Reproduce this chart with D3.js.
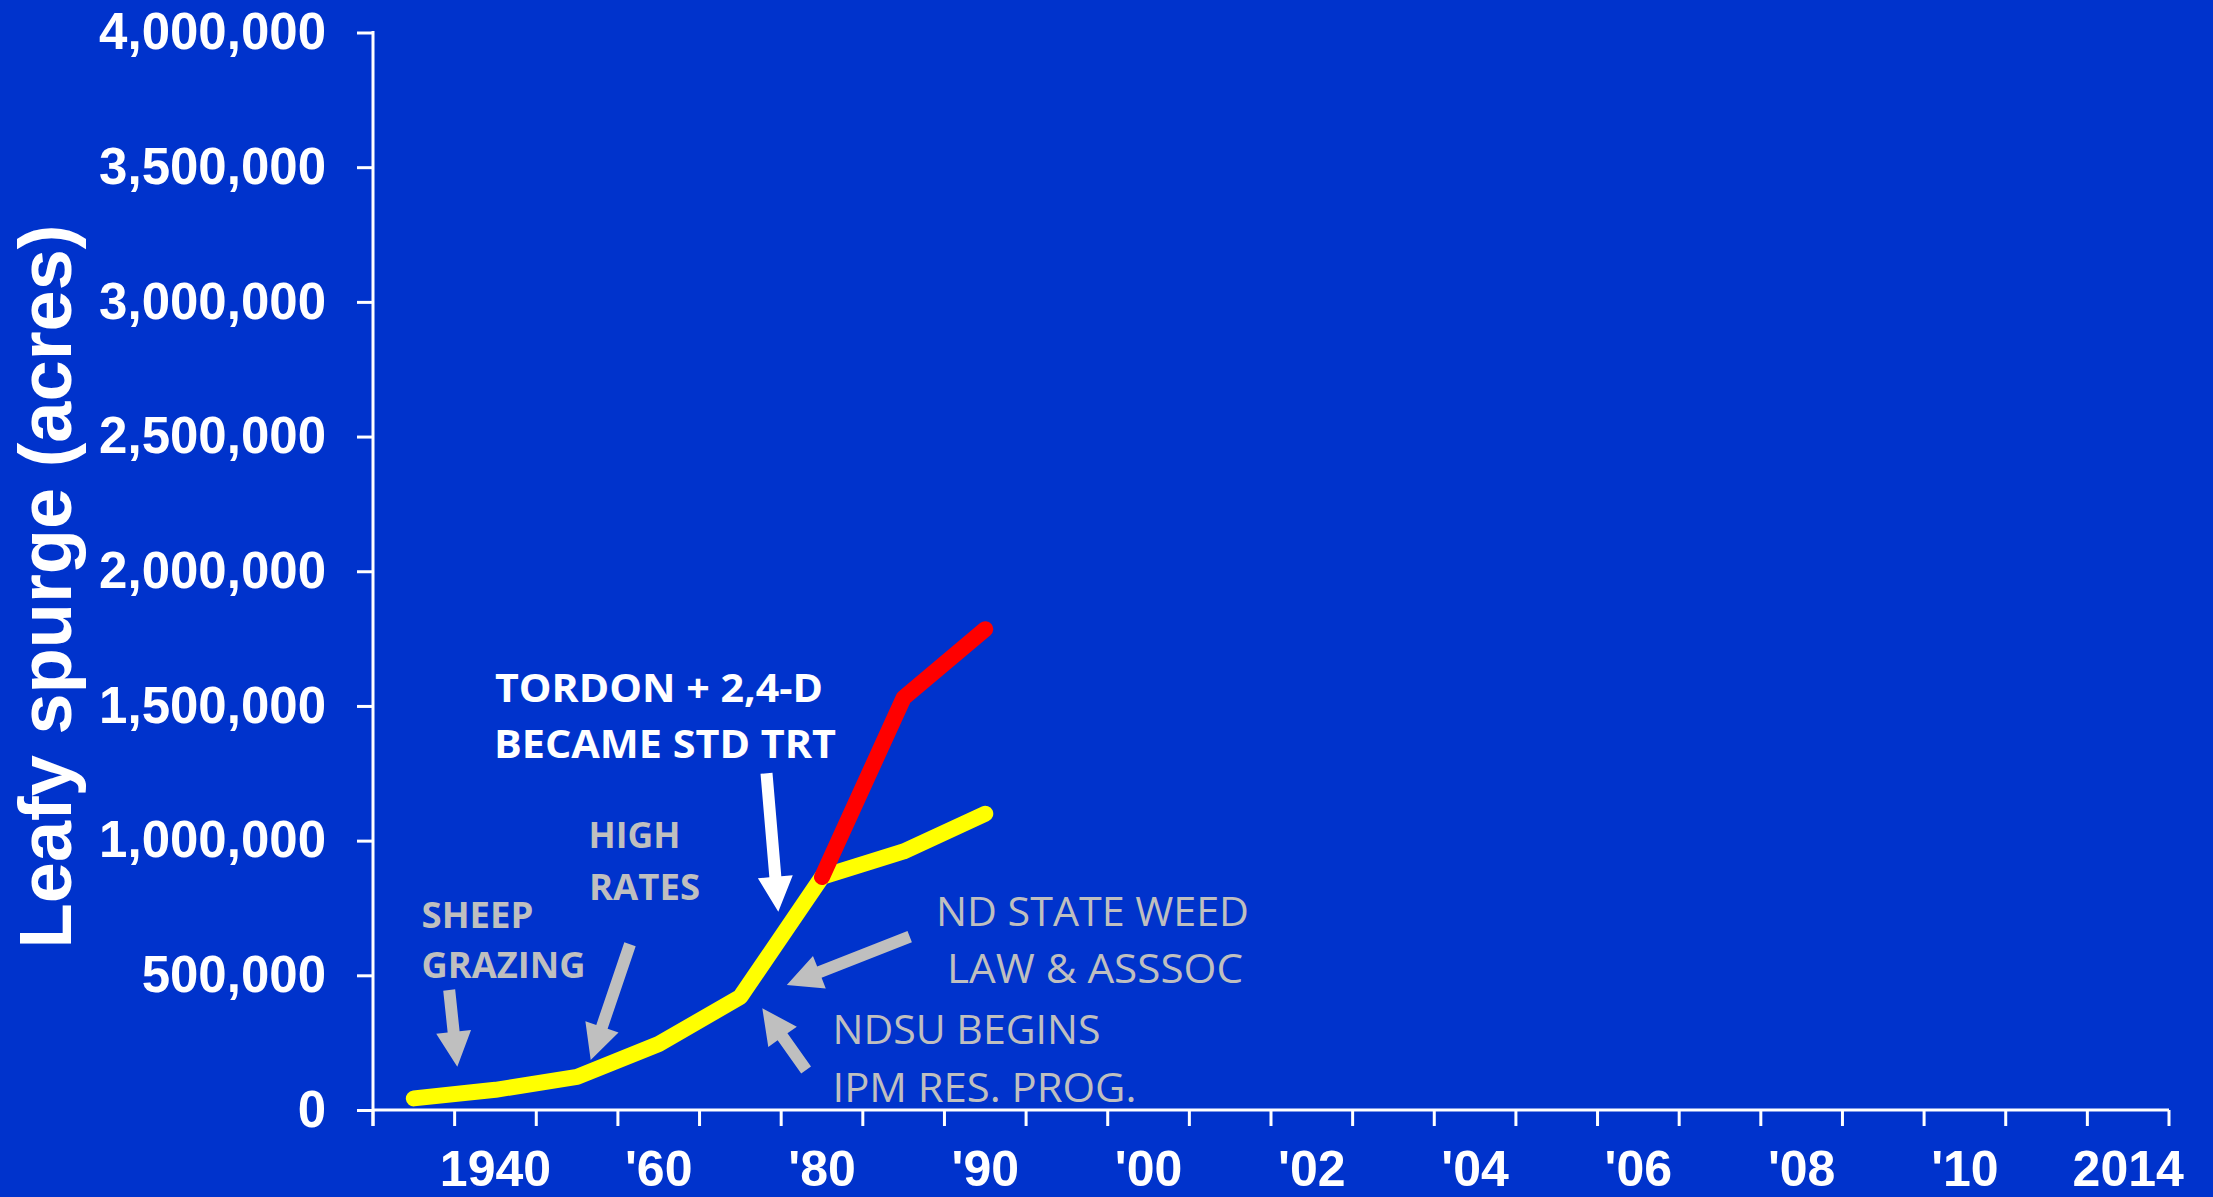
<!DOCTYPE html>
<html>
<head>
<meta charset="utf-8">
<script src="https://cdn.jsdelivr.net/npm/d3@7"></script>
<style>
  html, body { margin: 0; padding: 0; background: #0033CC; }
  svg { display: block; }
</style>
</head>
<body>
<svg id="chart" width="2213" height="1197"></svg>
<script>
// ---- data ----
// One slot per survey year along the category axis
const categories = ["1930", "1940", "1950", "1960", "1970", "1980", "1985", "1990", "1995", "2000", "2001",
                    "2002", "2003", "2004", "2005", "2006", "2007", "2008", "2009", "2010", "2012", "2014"];
// Only every other slot carries a label
const tickLabels = ["", "1940", "", "'60", "", "'80", "", "'90", "", "'00", "",
                    "'02", "", "'04", "", "'06", "", "'08", "", "'10", "", "2014"];
// Infested acres (yellow)
const infestedAcres = [43000, 75000, 123000, 245000, 420000, 865000, 960000, 1100000,
                       null, null, null, null, null, null, null, null, null, null, null, null, null, null];
// Projected acres without control (red)
const projectedAcres = [null, null, null, null, null, 865000, 1530000, 1785000,
                        null, null, null, null, null, null, null, null, null, null, null, null, null, null];
const yTicks = [0, 500000, 1000000, 1500000, 2000000, 2500000, 3000000, 3500000, 4000000];

// ---- layout ----
const W = 2213, H = 1197;
const plot = { left: 373, right: 2169, top: 32.5, bottom: 1110 };
const BG = "#0033CC", WHITE = "#FFFFFF", GRAY = "#BFBFBF";
const axisFont = "'Liberation Sans', Arial, sans-serif";
const noteFont = "'Open Sans', 'Noto Sans', sans-serif";

const svg = d3.select("#chart");
svg.append("rect").attr("width", W).attr("height", H).attr("fill", BG);

const x = d3.scaleBand().domain(categories).range([plot.left, plot.right]).padding(0);
const cx = c => x(c) + x.bandwidth() / 2;
const y = d3.scaleLinear().domain([0, 4000000]).range([plot.bottom, plot.top]);

// ---- y axis ----
const gy = svg.append("g")
  .attr("transform", `translate(${plot.left},0)`)
  .call(d3.axisLeft(y).tickValues(yTicks).tickFormat(d3.format(","))
          .tickSize(16).tickSizeOuter(0).tickPadding(31));
gy.select(".domain").remove();
gy.selectAll(".tick line").attr("stroke", WHITE).attr("stroke-width", 3);
gy.selectAll(".tick text")
  .attr("fill", WHITE)
  .style("font-family", axisFont).style("font-weight", "bold").style("font-size", "51px");

// ---- x axis: boundary ticks between slots, labels centred in slots ----
const bounds = categories.map(c => x(c)).concat([x.range()[1]]);
svg.append("g").selectAll("line").data(bounds).join("line")
  .attr("x1", d => d).attr("x2", d => d)
  .attr("y1", plot.bottom).attr("y2", plot.bottom + 16)
  .attr("stroke", WHITE).attr("stroke-width", 3);

const gx = svg.append("g")
  .attr("transform", `translate(0,${plot.bottom})`)
  .call(d3.axisBottom(x).tickSize(0).tickPadding(40.5)
          .tickFormat((d, i) => tickLabels[i]));
gx.select(".domain").remove();
gx.selectAll(".tick text")
  .attr("fill", WHITE)
  .style("font-family", axisFont).style("font-weight", "bold").style("font-size", "50px");

// axis lines
svg.append("line")
  .attr("x1", plot.left).attr("x2", plot.left)
  .attr("y1", y(4000000) - 1.5).attr("y2", plot.bottom + 16)
  .attr("stroke", WHITE).attr("stroke-width", 3);
svg.append("line")
  .attr("x1", plot.left).attr("x2", plot.right)
  .attr("y1", plot.bottom).attr("y2", plot.bottom)
  .attr("stroke", WHITE).attr("stroke-width", 3);

// y axis title
svg.append("text")
  .attr("transform", "translate(71,586.5) rotate(-90)")
  .attr("text-anchor", "middle")
  .attr("fill", WHITE)
  .style("font-family", axisFont).style("font-weight", "bold").style("font-size", "74px")
  .text("Leafy spurge (acres)");

// ---- series ----
const line = d3.line()
  .defined(d => d.v != null)
  .x(d => cx(d.c))
  .y(d => y(d.v));

const series = [
  { values: infestedAcres, color: "#FFFF00" },
  { values: projectedAcres, color: "#FF0000" }
];
svg.append("g").selectAll("path").data(series).join("path")
  .attr("d", s => line(categories.map((c, i) => ({ c, v: s.values[i] }))))
  .attr("fill", "none")
  .attr("stroke", s => s.color)
  .attr("stroke-width", 16)
  .attr("stroke-linecap", "round")
  .attr("stroke-linejoin", "round");

// ---- annotations ----
function arrowPoints(tail, tip, shaftW, headW, headL) {
  const dx = tip[0] - tail[0], dy = tip[1] - tail[1], L = Math.hypot(dx, dy);
  const ux = dx / L, uy = dy / L, nx = -uy, ny = ux;
  const bx = tip[0] - ux * headL, by = tip[1] - uy * headL;
  return [
    [tail[0] + nx * shaftW / 2, tail[1] + ny * shaftW / 2],
    [bx + nx * shaftW / 2, by + ny * shaftW / 2],
    [bx + nx * headW / 2, by + ny * headW / 2],
    tip,
    [bx - nx * headW / 2, by - ny * headW / 2],
    [bx - nx * shaftW / 2, by - ny * shaftW / 2],
    [tail[0] - nx * shaftW / 2, tail[1] - ny * shaftW / 2]
  ];
}

const arrows = [
  { tail: [766.5, 773.3], tip: [778.3, 911.7], fill: WHITE },
  { tail: [630, 944.2], tip: [590.7, 1060], fill: GRAY },
  { tail: [449.2, 990], tip: [457.3, 1066.7], fill: GRAY },
  { tail: [909.7, 936.7], tip: [786.8, 985], fill: GRAY },
  { tail: [806.1, 1070], tip: [762.3, 1008.3], fill: GRAY }
];
svg.append("g").selectAll("polygon").data(arrows).join("polygon")
  .attr("points", a => arrowPoints(a.tail, a.tip, 12, 35, 35).map(p => p.join(",")).join(" "))
  .attr("fill", a => a.fill);

const notes = [
  { text: "TORDON + 2,4-D", x: 495, y: 701.7, w: 328, size: 39.6, weight: 700, fill: WHITE },
  { text: "BECAME STD TRT", x: 494, y: 758.3, w: 342, size: 39.6, weight: 700, fill: WHITE },
  { text: "HIGH", x: 588.5, y: 848.3, w: 92, size: 35, weight: 700, fill: GRAY },
  { text: "RATES", x: 589, y: 900, w: 111, size: 35, weight: 700, fill: GRAY },
  { text: "SHEEP", x: 421.5, y: 927.7, w: 112, size: 35, weight: 700, fill: GRAY },
  { text: "GRAZING", x: 421.5, y: 977.7, w: 164, size: 35, weight: 700, fill: GRAY },
  { text: "ND STATE WEED", x: 936, y: 925.7, w: 313, size: 40, weight: 400, fill: GRAY },
  { text: "LAW & ASSSOC", x: 947, y: 983.3, w: 296, size: 40, weight: 400, fill: GRAY },
  { text: "NDSU BEGINS", x: 832.5, y: 1044.3, w: 268, size: 40, weight: 400, fill: GRAY },
  { text: "IPM RES. PROG.", x: 832.5, y: 1101.7, w: 304, size: 40, weight: 400, fill: GRAY }
];
svg.append("g").selectAll("text").data(notes).join("text")
  .attr("x", d => d.x).attr("y", d => d.y)
  .attr("textLength", d => d.w).attr("lengthAdjust", "spacingAndGlyphs")
  .attr("fill", d => d.fill)
  .style("font-family", noteFont)
  .style("font-weight", d => d.weight)
  .style("font-size", d => d.size + "px")
  .text(d => d.text);
</script>
</body>
</html>
